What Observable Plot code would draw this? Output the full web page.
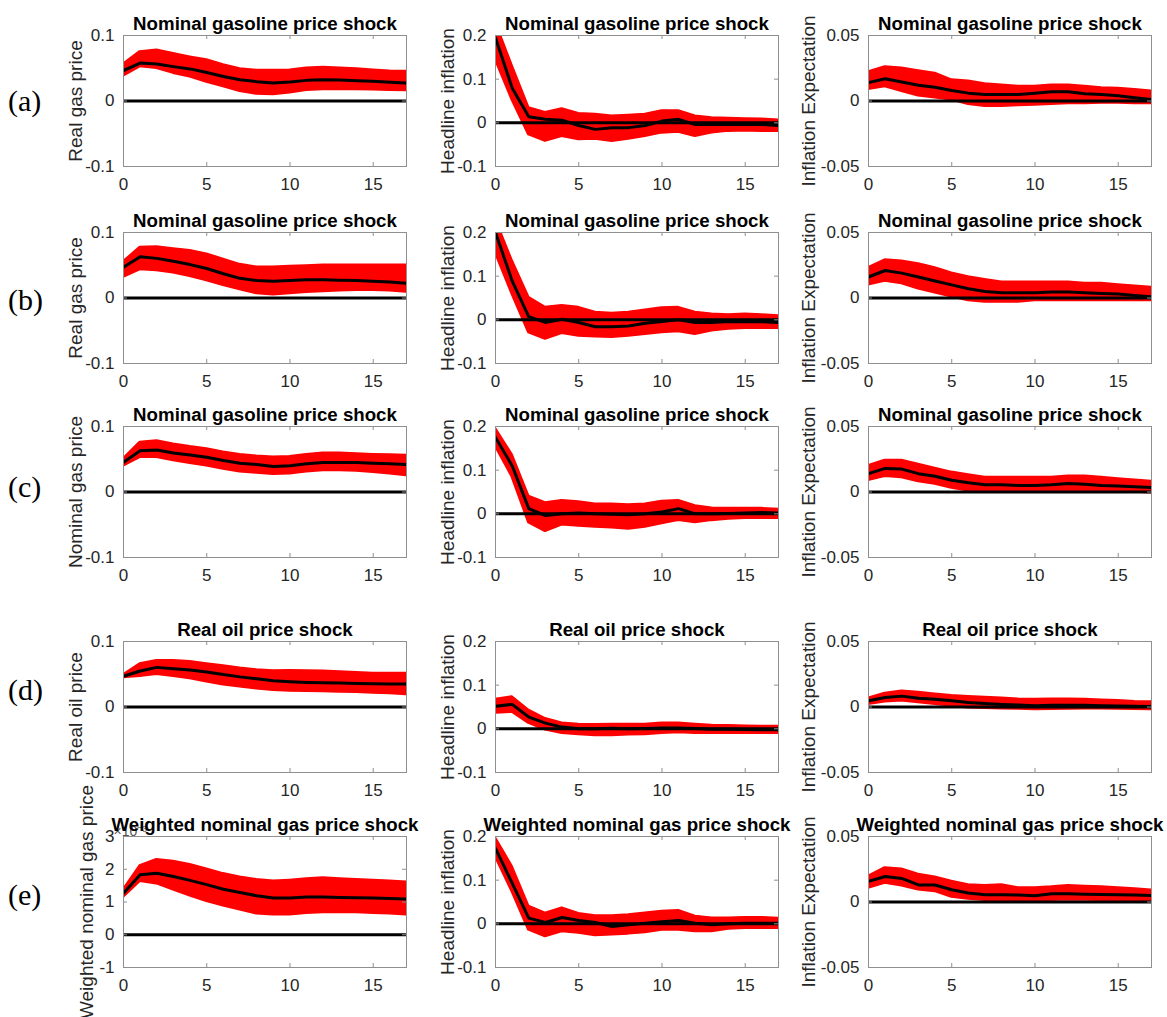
<!DOCTYPE html>
<html><head><meta charset="utf-8">
<script src="https://cdn.jsdelivr.net/npm/d3@7"></script>
<script src="https://cdn.jsdelivr.net/npm/@observablehq/plot@0.6"></script>
<style>
body{margin:0;background:#fff;}
#fig{position:relative;width:1167px;height:1017px;background:#fff;overflow:hidden;}
.plabel{position:absolute;font-family:"Liberation Serif","Times New Roman",serif;font-size:30px;color:#000;line-height:30px;transform:translateY(-50%);}
.panel{position:absolute;}
</style></head><body><div id="fig"></div>
<script>
// ---------------- data ----------------
const horizon = [0,1,2,3,4,5,6,7,8,9,10,11,12,13,14,15,16,17];
const xTicks = [0,5,10,15];

const rowLabels = ["(a)","(b)","(c)","(d)","(e)"];
const rowTitles = ["Nominal gasoline price shock","Nominal gasoline price shock","Nominal gasoline price shock","Real oil price shock","Weighted nominal gas price shock"];
const col1Labels = ["Real gas price","Real gas price","Nominal gas price","Real oil price","Weighted nominal gas price"];
const col2Label = "Headline inflation";
const col3Label = "Inflation Expectation";

const col1Ticks = [-0.1,0,0.1];
const col2Ticks = [-0.1,0,0.1,0.2];
const col3Ticks = [-0.05,0,0.05];
const e1Ticks = [-1,0,1,2,3];       // shown in units of 10^-3
const e1Exponent = "×10⁻³";

// Row (a)
const a1_mid = [0.0465,0.058,0.0565,0.0525,0.049,0.0435,0.0375,0.0325,0.0295,0.0275,0.029,0.0315,0.0325,0.032,0.031,0.030,0.0285,0.0275];
const a1_lo  = [0.0385,0.0525,0.050,0.0425,0.037,0.029,0.022,0.015,0.0105,0.010,0.0125,0.0165,0.0175,0.0175,0.0175,0.017,0.0165,0.016];
const a1_hi  = [0.056,0.075,0.0775,0.072,0.067,0.0625,0.055,0.049,0.0465,0.0465,0.047,0.050,0.051,0.050,0.049,0.047,0.0455,0.045];
const a2_mid = [0.195,0.080,0.014,0.008,0.006,-0.006,-0.015,-0.011,-0.011,-0.006,0.004,0.008,-0.004,-0.004,-0.004,-0.003,-0.004,-0.006];
const a2_lo  = [0.145,0.053,-0.027,-0.042,-0.031,-0.038,-0.037,-0.042,-0.037,-0.031,-0.023,-0.021,-0.031,-0.023,-0.019,-0.018,-0.019,-0.019];
const a2_hi  = [0.23,0.13,0.034,0.023,0.032,0.021,0.019,0.015,0.017,0.019,0.027,0.027,0.015,0.011,0.010,0.009,0.008,0.006];
const a3_mid = [0.014,0.017,0.0145,0.012,0.0105,0.008,0.006,0.005,0.005,0.005,0.006,0.007,0.007,0.0055,0.005,0.004,0.0025,0.001];
const a3_lo  = [0.009,0.011,0.0075,0.004,0.0025,0.001,-0.0025,-0.004,-0.004,-0.0035,-0.003,-0.0025,-0.002,-0.002,-0.0015,-0.0015,-0.002,-0.002];
const a3_hi  = [0.022,0.026,0.025,0.023,0.021,0.016,0.015,0.013,0.012,0.011,0.011,0.012,0.012,0.011,0.010,0.0095,0.0085,0.0075];

// Row (b)
const b1_mid = [0.047,0.063,0.0605,0.056,0.051,0.045,0.037,0.030,0.0267,0.0256,0.0267,0.0277,0.0277,0.0272,0.0267,0.0256,0.0246,0.0226];
const b1_lo  = [0.032,0.0435,0.042,0.0385,0.033,0.0267,0.0195,0.013,0.007,0.005,0.007,0.0087,0.010,0.011,0.012,0.012,0.011,0.009];
const b1_hi  = [0.055,0.077,0.078,0.075,0.072,0.067,0.059,0.051,0.047,0.047,0.048,0.049,0.050,0.050,0.050,0.050,0.050,0.050];
const b2_mid = [0.200,0.089,0.007,-0.006,0.0015,-0.006,-0.016,-0.016,-0.014,-0.0076,-0.004,0,-0.006,-0.006,-0.004,-0.0045,-0.0045,-0.006];
const b2_lo  = [0.154,0.059,-0.029,-0.044,-0.031,-0.037,-0.039,-0.040,-0.037,-0.033,-0.029,-0.027,-0.033,-0.025,-0.021,-0.019,-0.019,-0.019];
const b2_hi  = [0.23,0.135,0.051,0.028,0.032,0.028,0.017,0.0145,0.017,0.022,0.027,0.028,0.017,0.013,0.011,0.013,0.011,0.009];
const b3_mid = [0.016,0.021,0.019,0.016,0.013,0.010,0.007,0.005,0.004,0.004,0.004,0.0045,0.0045,0.004,0.0035,0.003,0.002,0.001];
const b3_lo  = [0.010,0.013,0.011,0.007,0.004,0.001,-0.002,-0.003,-0.003,-0.003,-0.002,-0.002,-0.002,-0.002,-0.002,-0.002,-0.002,-0.002];
const b3_hi  = [0.023,0.029,0.028,0.026,0.023,0.019,0.016,0.014,0.012,0.012,0.012,0.012,0.012,0.011,0.011,0.010,0.009,0.008];

// Row (c)
const c1_mid = [0.0455,0.063,0.064,0.0596,0.0566,0.053,0.048,0.044,0.042,0.039,0.040,0.043,0.045,0.045,0.045,0.044,0.043,0.042];
const c1_lo  = [0.040,0.053,0.053,0.048,0.044,0.040,0.035,0.031,0.029,0.027,0.028,0.031,0.033,0.033,0.032,0.030,0.028,0.025];
const c1_hi  = [0.0505,0.0757,0.078,0.073,0.069,0.0657,0.0606,0.057,0.0545,0.053,0.054,0.057,0.059,0.059,0.058,0.057,0.0565,0.0556];
const c2_mid = [0.175,0.11,0.012,-0.004,0.0,0.002,0.0,-0.001,-0.002,0.0,0.004,0.012,0.0,0.0,0.001,0.002,0.003,0.002];
const c2_lo  = [0.155,0.085,-0.02,-0.04,-0.025,-0.028,-0.03,-0.032,-0.035,-0.03,-0.022,-0.015,-0.02,-0.015,-0.012,-0.01,-0.01,-0.01];
const c2_hi  = [0.195,0.135,0.04,0.025,0.03,0.027,0.022,0.022,0.02,0.022,0.028,0.03,0.018,0.013,0.012,0.012,0.012,0.01];
const c3_mid = [0.014,0.018,0.0175,0.014,0.012,0.009,0.007,0.0055,0.0055,0.005,0.005,0.0055,0.0065,0.006,0.005,0.0045,0.004,0.0035];
const c3_lo  = [0.009,0.012,0.011,0.008,0.006,0.003,0.001,0.0,0.0,0.0,0.0,0.0005,0.001,0.001,0.0005,0.0,0.0,-0.0005];
const c3_hi  = [0.02,0.024,0.024,0.021,0.018,0.015,0.013,0.011,0.011,0.011,0.011,0.011,0.012,0.012,0.011,0.01,0.009,0.008];

// Row (d)
const d1_mid = [0.047,0.055,0.0605,0.0585,0.0564,0.0533,0.0497,0.046,0.043,0.040,0.0385,0.0375,0.037,0.0365,0.036,0.0355,0.035,0.035];
const d1_lo  = [0.045,0.047,0.050,0.047,0.0436,0.0385,0.034,0.031,0.028,0.0256,0.0246,0.024,0.0236,0.023,0.0225,0.0215,0.0205,0.019];
const d1_hi  = [0.0487,0.0656,0.0708,0.0708,0.069,0.0656,0.0626,0.059,0.0564,0.055,0.0554,0.055,0.0544,0.0533,0.0523,0.0513,0.0513,0.0513];
const d2_mid = [0.0515,0.056,0.027,0.013,0.004,0,0,0.0015,0,0.0008,0.002,0.002,0.0008,-0.0008,-0.0008,-0.0015,-0.002,-0.002];
const d2_lo  = [0.036,0.0385,0.013,-0.0023,-0.010,-0.013,-0.015,-0.015,-0.0138,-0.013,-0.010,-0.0085,-0.010,-0.010,-0.010,-0.010,-0.010,-0.010];
const d2_hi  = [0.067,0.073,0.042,0.023,0.013,0.010,0.0092,0.010,0.010,0.010,0.013,0.013,0.010,0.0077,0.007,0.006,0.0054,0.0054];
const d3_mid = [0.0047,0.0073,0.0083,0.0067,0.006,0.0047,0.0034,0.0026,0.002,0.0016,0.001,0.0013,0.0013,0.0013,0.001,0.0008,0.0005,0.0003];
const d3_lo  = [0.002,0.004,0.0047,0.0034,0.002,0.0008,-0.0005,-0.001,-0.0013,-0.0016,-0.002,-0.0018,-0.0016,-0.0013,-0.0013,-0.0016,-0.0018,-0.002];
const d3_hi  = [0.0067,0.0104,0.012,0.011,0.0098,0.0085,0.0078,0.0073,0.0067,0.006,0.0057,0.006,0.006,0.0057,0.0052,0.0047,0.0041,0.0039];

// Row (e)  (e1 in units of 10^-3)
const e1_mid = [1.27,1.83,1.88,1.78,1.66,1.53,1.39,1.29,1.19,1.12,1.12,1.15,1.15,1.14,1.13,1.12,1.11,1.09];
const e1_lo  = [1.15,1.63,1.56,1.37,1.19,1.02,0.885,0.76,0.64,0.61,0.61,0.66,0.68,0.68,0.68,0.66,0.64,0.61];
const e1_hi  = [1.37,2.10,2.29,2.24,2.14,2.00,1.86,1.76,1.68,1.63,1.66,1.70,1.73,1.70,1.68,1.66,1.63,1.60];
const e2_mid = [0.173,0.093,0.013,0.003,0.0145,0.0076,0.003,-0.006,-0.002,0.0015,0.005,0.0076,0.0015,-0.002,0,0.0015,0.0015,0.0015];
const e2_lo  = [0.154,0.074,-0.014,-0.029,-0.0175,-0.021,-0.027,-0.025,-0.023,-0.020,-0.014,-0.014,-0.0175,-0.0175,-0.012,-0.010,-0.010,-0.010];
const e2_hi  = [0.196,0.131,0.040,0.024,0.036,0.023,0.018,0.018,0.020,0.024,0.028,0.030,0.017,0.013,0.013,0.014,0.014,0.012];
const e3_mid = [0.0157,0.0195,0.018,0.013,0.013,0.0094,0.0069,0.0056,0.0056,0.0053,0.0048,0.0063,0.0063,0.006,0.0058,0.0056,0.0053,0.005];
const e3_lo  = [0.0107,0.0145,0.0124,0.0094,0.0081,0.0038,0.0023,0.0013,0.0013,0.001,0.0008,0.0013,0.0018,0.0015,0.0013,0.0013,0.001,0.0008];
const e3_hi  = [0.0195,0.026,0.025,0.021,0.019,0.0157,0.013,0.0124,0.013,0.0107,0.0107,0.0114,0.0124,0.0119,0.0114,0.0107,0.0099,0.0089];

// ---------------- layout ----------------
const INNER_W = 283, INNER_H = 131;
const colLeft = [123, 495, 868];
const rowTop = [35, 232, 426, 641, 836];
const rowLabelY = [101, 300, 487, 690, 895];
const FONT = '"Liberation Sans", Arial, Helvetica, sans-serif';
const AXIS_GRAY = "#8f8f8f";
const TEXT_GRAY = "#262626";

const series = [
  [[a1_mid,a1_lo,a1_hi],[a2_mid,a2_lo,a2_hi],[a3_mid,a3_lo,a3_hi]],
  [[b1_mid,b1_lo,b1_hi],[b2_mid,b2_lo,b2_hi],[b3_mid,b3_lo,b3_hi]],
  [[c1_mid,c1_lo,c1_hi],[c2_mid,c2_lo,c2_hi],[c3_mid,c3_lo,c3_hi]],
  [[d1_mid,d1_lo,d1_hi],[d2_mid,d2_lo,d2_hi],[d3_mid,d3_lo,d3_hi]],
  [[e1_mid,e1_lo,e1_hi],[e2_mid,e2_lo,e2_hi],[e3_mid,e3_lo,e3_hi]]
];

const fig = document.getElementById("fig");
const fmt = d => String(d);

function makePanel(r, c) {
  const [mid, lo, hi] = series[r][c];
  const isE1 = (r === 4 && c === 0);
  const yTicks = c === 0 ? (isE1 ? e1Ticks : col1Ticks) : c === 1 ? col2Ticks : col3Ticks;
  const yDomain = [yTicks[0], yTicks[yTicks.length - 1]];
  const ylabel = c === 0 ? col1Labels[r] : c === 1 ? col2Label : col3Label;
  const labelDx = isE1 ? -37 : c === 2 ? -60 : -48;
  const mL = c === 0 ? 123 : 75, mR = 16, mT = 35, mB = 34;
  const data = horizon.map((h, i) => ({h, mid: mid[i], lo: lo[i], hi: hi[i]}));
  const tickLen = 4;
  const marks = [
    Plot.areaY(data, {x: "h", y1: "lo", y2: "hi", fill: "#ff0000", stroke: "#ff0000", strokeWidth: 2.5, strokeLinejoin: "round", clip: true}),
    Plot.ruleY([0], {stroke: "#000", strokeWidth: 3}),
    Plot.lineY(data, {x: "h", y: "mid", stroke: "#000", strokeWidth: 3, strokeLinejoin: "round", clip: true}),
    Plot.frame({stroke: AXIS_GRAY, strokeWidth: 1}),
    Plot.tickX(xTicks, {x: d => d, insetTop: INNER_H - tickLen, stroke: AXIS_GRAY}),
    Plot.tickX(xTicks, {x: d => d, insetBottom: INNER_H - tickLen, stroke: AXIS_GRAY}),
    Plot.tickY(yTicks, {y: d => d, insetRight: INNER_W - tickLen, stroke: AXIS_GRAY}),
    Plot.tickY(yTicks, {y: d => d, insetLeft: INNER_W - tickLen, stroke: AXIS_GRAY}),
    Plot.axisX(xTicks, {tickSize: 0, tickPadding: 11, tickFormat: fmt, fontSize: 17, fill: TEXT_GRAY, label: null}),
    Plot.axisY(yTicks, {tickSize: 0, tickPadding: 9, tickFormat: fmt, fontSize: 17, fill: TEXT_GRAY, label: null}),
    Plot.text([ylabel], {frameAnchor: "left", rotate: -90, dx: labelDx, fontSize: 19, fill: TEXT_GRAY, textAnchor: "middle"})
  ];
  if (isE1) {
    marks.push(Plot.text([e1Exponent], {frameAnchor: "top-left", textAnchor: "start", lineAnchor: "bottom", dx: -10, dy: -1, fontSize: 14, fill: "#555"}));
  }
  marks.push(Plot.text([rowTitles[r]], {frameAnchor: "top", textAnchor: "middle", lineAnchor: "bottom", dy: -6, fontSize: 18.7, fontWeight: "bold", fill: "#000"}));
  const svg = Plot.plot({
    width: mL + INNER_W + mR,
    height: mT + INNER_H + mB,
    marginLeft: mL, marginRight: mR, marginTop: mT, marginBottom: mB,
    style: {background: "transparent", overflow: "visible", fontFamily: FONT},
    x: {domain: [0, 17]},
    y: {domain: yDomain},
    marks
  });
  svg.classList.add("panel");
  svg.style.left = (colLeft[c] - mL) + "px";
  svg.style.top = (rowTop[r] - mT) + "px";
  svg.style.position = "absolute";
  svg.style.maxWidth = "none";
  fig.appendChild(svg);
}

for (let r = 0; r < 5; r++) {
  for (let c = 0; c < 3; c++) makePanel(r, c);
  const lab = document.createElement("div");
  lab.className = "plabel";
  lab.textContent = rowLabels[r];
  lab.style.left = "8px";
  lab.style.top = rowLabelY[r] + "px";
  fig.appendChild(lab);
}
</script>
</body></html>
